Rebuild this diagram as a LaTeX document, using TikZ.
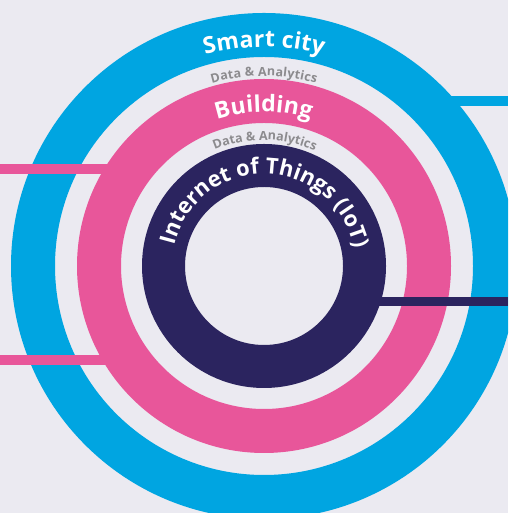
\documentclass[tikz,border=0pt]{standalone}
\usepackage{fontspec}
\setmainfont{Open Sans}
\usetikzlibrary{decorations.text}
\definecolor{bg}{HTML}{EBEAF1}
\definecolor{cblue}{HTML}{00A5E1}
\definecolor{cpink}{HTML}{E8569A}
\definecolor{cnavy}{HTML}{2B245F}
\definecolor{cgray}{HTML}{8C8B8E}
\newcommand\bigwhite{\color{white}\bfseries\fontsize{23}{23}\selectfont}
\newcommand\iotwhite{\color{white}\bfseries\fontsize{22}{22}\selectfont}
\newcommand\smallgray{\color{cgray}\bfseries\fontsize{12.5}{12.5}\selectfont}
\begin{document}
\begin{tikzpicture}[x=1pt,y=1pt,
  ring/.style={even odd rule},
  arclabel/.style={decorate,decoration={text along path,text align={fit to path},text={#1}}}]
\useasboundingbox (0,0) rectangle (508,513);
\clip (0,0) rectangle (508,513);
\fill[bg] (0,0) rectangle (508,513);
\coordinate (C) at (264,247);
% rings
\fill[cblue,ring] (C) circle[radius=253] (C) circle[radius=209];
\fill[cpink,ring] (C) circle[radius=187] (C) circle[radius=143];
\fill[cnavy,ring] (C) circle[radius=122] (C) circle[radius=79];
% bars
\fill[cblue] (430,407) rectangle (508,416.5);
\fill[cpink] (0,339) rectangle (130,349);
\fill[cpink] (0,148) rectangle (130,158);
\fill[cnavy] (360,207) rectangle (508,216);
% labels
\path[arclabel={|\bigwhite|Smart city}] ([shift={(105.6:219)}]C) arc[start angle=105.6,end angle=74.4,radius=219];
\path[arclabel={|\smallgray|Data {\&} Analytics}] ([shift={(105.9:190)}]C) arc[start angle=105.9,end angle=74.1,radius=190];
\path[arclabel={|\bigwhite|Building}] ([shift={(107.8:154)}]C) arc[start angle=107.8,end angle=72.5,radius=154];
\path[arclabel={|\smallgray|Data {\&} Analytics}] ([shift={(113:126)}]C) arc[start angle=113,end angle=67,radius=126];
\path[arclabel={|\iotwhite|Internet of Things (IoT)}] ([shift={(167:92)}]C) arc[start angle=167,end angle=13,radius=92];
\end{tikzpicture}
\end{document}
